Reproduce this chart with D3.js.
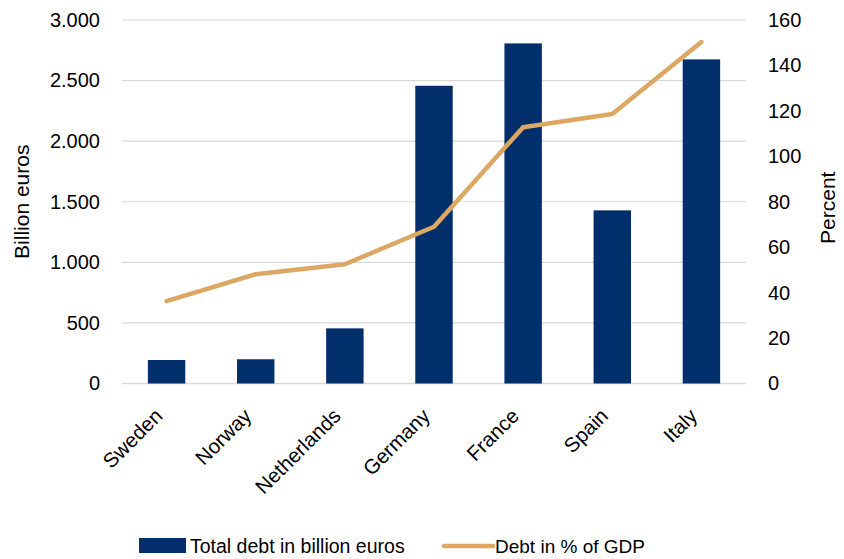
<!DOCTYPE html>
<html>
<head>
<meta charset="utf-8">
<script src="https://cdn.jsdelivr.net/npm/d3@7"></script>
<style>
  body { margin: 0; background: #fff; }
  text { font-family: "Liberation Sans", Arial, sans-serif; fill: #000; }
</style>
</head>
<body>
<div id="chart"></div>
<script>
// data
const countries = ['Sweden', 'Norway', 'Netherlands', 'Germany', 'France', 'Spain', 'Italy'];
const totalDebt = [194, 200, 455, 2457, 2807, 1429, 2675];   // billion euros
const debtPctGdp = [36.3, 48.1, 52.5, 69.0, 112.8, 118.6, 150.3]; // percent
const leftTicks = [0, 500, 1000, 1500, 2000, 2500, 3000];
const rightTicks = [0, 20, 40, 60, 80, 100, 120, 140, 160];

const W = 844, H = 559;
const plot = { left: 122, right: 746, top: 20, bottom: 383.5 };

const svg = d3.select('#chart').append('svg')
    .attr('width', W)
    .attr('height', H);

const x = d3.scaleBand()
    .domain(countries)
    .range([plot.left, plot.right])
    .paddingInner(0.58)
    .paddingOuter(0.29);

const yLeft = d3.scaleLinear().domain([0, 3000]).range([plot.bottom, plot.top]);
const yRight = d3.scaleLinear().domain([0, 160]).range([plot.bottom, plot.top]);

const fmt = d3.format(',');
const fmtDot = v => fmt(v).replace(/,/g, '.');

// gridlines
svg.append('g')
    .selectAll('line')
    .data(leftTicks)
    .join('line')
    .attr('x1', plot.left)
    .attr('x2', plot.right)
    .attr('y1', d => yLeft(d))
    .attr('y2', d => yLeft(d))
    .attr('stroke', '#d9d9d9')
    .attr('stroke-width', d => d === 0 ? 1.5 : 1.2);

// left axis labels
const leftAxis = svg.append('g')
    .attr('transform', `translate(${plot.left},0)`)
    .call(d3.axisLeft(yLeft).tickValues(leftTicks).tickFormat(fmtDot).tickSize(0).tickPadding(22));
leftAxis.select('.domain').remove();
leftAxis.selectAll('text')
    .style('font-family', '"Liberation Sans", Arial, sans-serif')
    .style('font-size', '20px')
    .attr('fill', '#000');

// right axis labels
const rightAxis = svg.append('g')
    .attr('transform', `translate(${plot.right},0)`)
    .call(d3.axisRight(yRight).tickValues(rightTicks).tickSize(0).tickPadding(22));
rightAxis.select('.domain').remove();
rightAxis.selectAll('text')
    .style('font-family', '"Liberation Sans", Arial, sans-serif')
    .style('font-size', '20px')
    .attr('fill', '#000');

// bars
svg.append('g')
    .selectAll('rect')
    .data(countries)
    .join('rect')
    .attr('x', d => x(d))
    .attr('width', x.bandwidth())
    .attr('y', (d, i) => yLeft(totalDebt[i]))
    .attr('height', (d, i) => yLeft(0) - yLeft(totalDebt[i]))
    .attr('fill', '#002F6C');

// line
const line = d3.line()
    .x((d, i) => x(countries[i]) + x.bandwidth() / 2)
    .y(d => yRight(d));

svg.append('path')
    .datum(debtPctGdp)
    .attr('fill', 'none')
    .attr('stroke', '#DCA763')
    .attr('stroke-width', 4.5)
    .attr('stroke-linecap', 'round')
    .attr('stroke-linejoin', 'round')
    .attr('d', line);

// category labels
svg.append('g')
    .selectAll('text')
    .data(countries)
    .join('text')
    .attr('transform', d => `translate(${x(d) + x.bandwidth() / 2 - 13},407) rotate(-45)`)
    .attr('text-anchor', 'end')
    .attr('dy', '0.7em')
    .style('font-size', '20.5px')
    .text(d => d);

// axis titles
svg.append('text')
    .attr('transform', `translate(29,${(plot.top + plot.bottom) / 2}) rotate(-90)`)
    .attr('text-anchor', 'middle')
    .style('font-size', '21px')
    .text('Billion euros');

svg.append('text')
    .attr('transform', `translate(820,${(plot.top + plot.bottom) / 2 + 6}) rotate(-90)`)
    .attr('text-anchor', 'middle')
    .attr('dy', '0.7em')
    .style('font-size', '21px')
    .text('Percent');

// legend
const legend = svg.append('g').attr('transform', 'translate(139,546)');
legend.append('rect')
    .attr('x', 0).attr('y', -8)
    .attr('width', 47).attr('height', 15)
    .attr('fill', '#002F6C');
legend.append('text')
    .attr('x', 51).attr('y', 7)
    .style('font-size', '19.5px')
    .text('Total debt in billion euros');
legend.append('line')
    .attr('x1', 305).attr('x2', 354)
    .attr('y1', 0).attr('y2', 0)
    .attr('stroke', '#DCA763')
    .attr('stroke-width', 4.5)
    .attr('stroke-linecap', 'round');
legend.append('text')
    .attr('x', 356).attr('y', 7)
    .style('font-size', '19px')
    .text('Debt in % of GDP');
</script>
</body>
</html>
